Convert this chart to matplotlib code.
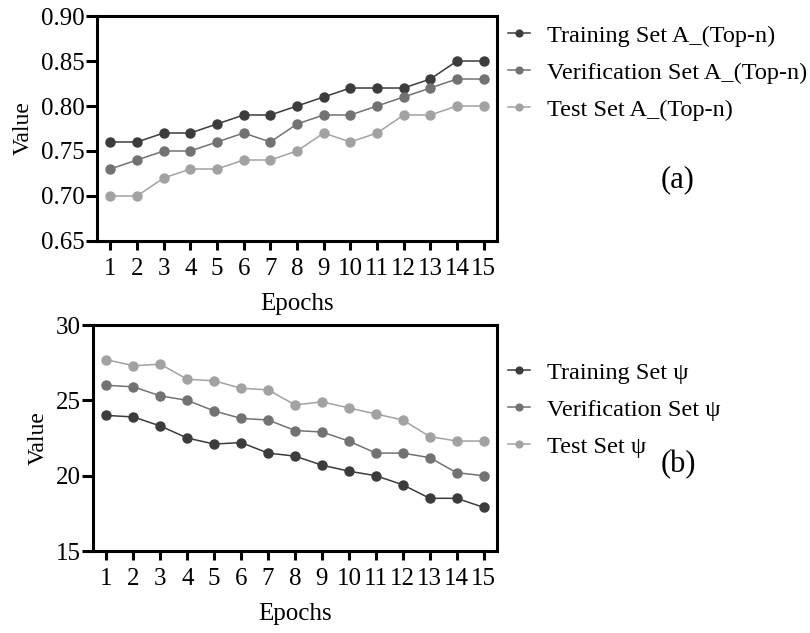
import matplotlib
matplotlib.use("Agg")
import matplotlib.pyplot as plt
import numpy as np

plt.rcParams["font.family"] = ["Liberation Serif", "DejaVu Serif"]

epochs = np.arange(1, 16)

# (a) A_(Top-n)
train_a = [0.76, 0.76, 0.77, 0.77, 0.78, 0.79, 0.79, 0.80, 0.81, 0.82, 0.82, 0.82, 0.83, 0.85, 0.85]
verif_a = [0.73, 0.74, 0.75, 0.75, 0.76, 0.77, 0.76, 0.78, 0.79, 0.79, 0.80, 0.81, 0.82, 0.83, 0.83]
test_a = [0.70, 0.70, 0.72, 0.73, 0.73, 0.74, 0.74, 0.75, 0.77, 0.76, 0.77, 0.79, 0.79, 0.80, 0.80]

# (b) psi
train_b = [24.0, 23.9, 23.3, 22.5, 22.1, 22.2, 21.5, 21.3, 20.7, 20.3, 20.0, 19.4, 18.5, 18.5, 17.9]
verif_b = [26.0, 25.9, 25.3, 25.0, 24.3, 23.8, 23.7, 23.0, 22.9, 22.3, 21.5, 21.5, 21.2, 20.2, 20.0]
test_b = [27.7, 27.3, 27.4, 26.4, 26.3, 25.8, 25.7, 24.7, 24.9, 24.5, 24.1, 23.7, 22.6, 22.3, 22.3]

colors = ["#3c3c3c", "#727272", "#a2a2a2"]
fs = 18

fig = plt.figure(figsize=(8.1, 6.33), dpi=100)
ax1 = fig.add_axes([0.1198, 0.6193, 0.4938, 0.3554])
ax2 = fig.add_axes([0.1148, 0.1295, 0.4988, 0.3570])


def style(ax, yticks, fmt):
    ax.set_xlim(0.5, 15.5)
    ax.set_xticks(epochs)
    ax.set_ylim(yticks[0], yticks[-1])
    ax.set_yticks(yticks)
    ax.set_yticklabels([fmt.format(v) for v in yticks])
    for s in ax.spines.values():
        s.set_linewidth(2.2)
    ax.tick_params(axis="x", direction="out", length=6.5, width=2.2, labelsize=fs, pad=6)
    ax.tick_params(axis="y", direction="out", length=8, width=2.2, labelsize=fs, pad=1)
    ax.set_xlabel("Epochs", fontsize=fs, labelpad=9)
    ax.set_ylabel("Value", fontsize=fs - 1, labelpad=5)


series_a = [(train_a, "Training Set A_(Top-n)"), (verif_a, "Verification Set A_(Top-n)"),
            (test_a, "Test Set A_(Top-n)")]
series_b = [(train_b, "Training Set ψ"), (verif_b, "Verification Set ψ"), (test_b, "Test Set ψ")]

for ax, series in [(ax1, series_a), (ax2, series_b)]:
    for (vals, lab), c in zip(series, colors):
        ax.plot(epochs, vals, color=c, marker="o", markersize=6.5, linewidth=1.1, label=lab, clip_on=False)

style(ax1, [0.65, 0.70, 0.75, 0.80, 0.85, 0.90], "{:.2f}")
style(ax2, [15, 20, 25, 30], "{:.0f}")

for ax, y in [(ax1, 1 - 15 / 633), (ax2, 1 - 352 / 633)]:
    ax.legend(loc="upper left", bbox_to_anchor=(498 / 810, y), bbox_transform=fig.transFigure,
              frameon=False, fontsize=17.5, handlelength=0.9, handletextpad=0.7,
              labelspacing=0.62, borderaxespad=0, markerscale=0.75)

fig.text(678 / 810, 1 - 180 / 633, "(a)", fontsize=22, ha="center", va="center")
fig.text(678 / 810, 1 - 465 / 633, "(b)", fontsize=22, ha="center", va="center")

fig.savefig("out.png", dpi=100)
